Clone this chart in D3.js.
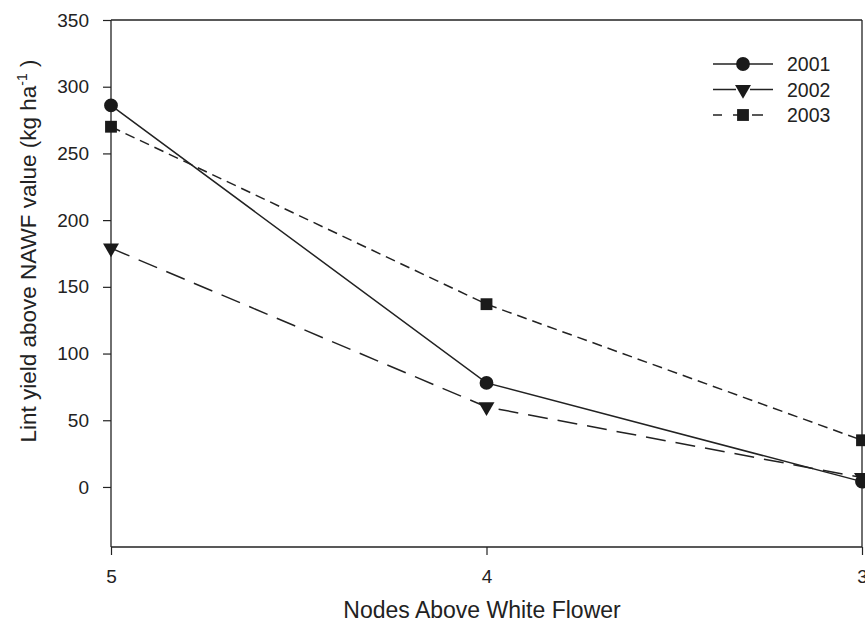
<!DOCTYPE html>
<html>
<head>
<meta charset="utf-8">
<script src="https://cdn.jsdelivr.net/npm/d3@7"></script>
<style>
  body { margin: 0; background: #fff; }
  svg { font-family: 'Liberation Sans', Arial, sans-serif; }
</style>
</head>
<body>
<svg id="chart" width="865" height="632"></svg>
<script>
const nodes = [5, 4, 3]
const xTicks = [5, 4, 3]
const yTicks = [0, 50, 100, 150, 200, 250, 300, 350]
const years = ['2001', '2002', '2003']
const yield2001 = [286, 78, 4]
const yield2002 = [179, 60, 7]
const yield2003 = [270, 137, 35]

const series = [
  { name: years[0], values: yield2001, dash: null, legendDash: null, symbol: d3.symbolCircle, size: 150 },
  { name: years[1], values: yield2002, dash: '20,10', legendDash: '23,14', symbol: d3.symbolTriangle, size: 110, rotate: 180 },
  { name: years[2], values: yield2003, dash: '10,6', legendDash: '9,11,6,13,11,11', symbol: d3.symbolSquare, size: 140 }
]

const svg = d3.select('#chart')
const margin = { top: 20, right: 3, bottom: 85, left: 111 }
const width = 865, height = 632
const innerWidth = width - margin.left - margin.right
const innerHeight = height - margin.top - margin.bottom

const g = svg.append('g')
  .attr('transform', `translate(${margin.left},${margin.top})`)

// scales
const x = d3.scaleLinear().domain([5, 3]).range([0, innerWidth])
const y = d3.scaleLinear().domain([-45, 350]).range([innerHeight, 0])

// axes
const xAxis = g.append('g')
  .attr('transform', `translate(0,${innerHeight})`)
  .call(d3.axisBottom(x).tickValues(xTicks).tickFormat(d3.format('d')).tickSize(8).tickPadding(15))

const yAxis = g.append('g')
  .call(d3.axisLeft(y).tickValues(yTicks).tickSize(8).tickPadding(14))

for (const ax of [xAxis, yAxis]) {
  ax.attr('font-size', 19).attr('font-family', null)
  ax.select('.domain').attr('stroke', '#222').attr('stroke-width', 1.3)
  ax.selectAll('.tick line').attr('stroke', '#222').attr('stroke-width', 1.2)
  ax.selectAll('.tick text').attr('fill', '#222')
}
xAxis.select('.domain').attr('d', `M0,0H${innerWidth}`)
yAxis.select('.domain').attr('d', `M0,${innerHeight}V0`)

// top and right frame
g.append('line')
  .attr('x1', 0).attr('x2', innerWidth).attr('y1', 0).attr('y2', 0)
  .attr('stroke', '#222').attr('stroke-width', 1.3)
g.append('line')
  .attr('x1', innerWidth).attr('x2', innerWidth).attr('y1', 0).attr('y2', innerHeight)
  .attr('stroke', '#222').attr('stroke-width', 1.3)

// axis titles
svg.append('text')
  .attr('x', 482)
  .attr('y', 618)
  .attr('text-anchor', 'middle')
  .attr('font-size', 23)
  .attr('fill', '#222')
  .text('Nodes Above White Flower')

const yTitle = svg.append('text')
  .attr('transform', 'translate(36,251) rotate(-90)')
  .attr('text-anchor', 'middle')
  .attr('font-size', 22.5)
  .attr('fill', '#222')
yTitle.append('tspan').text('Lint yield above NAWF value (kg ha')
yTitle.append('tspan').attr('dy', -9).attr('font-size', 14).text('-1')
yTitle.append('tspan').attr('dy', 9).text(' )')

// lines
const line = d3.line()
  .x((d, i) => x(nodes[i]))
  .y(d => y(d))

series.forEach(s => {
  g.append('path')
    .datum(s.values)
    .attr('fill', 'none')
    .attr('stroke', '#222')
    .attr('stroke-width', 1.5)
    .attr('stroke-dasharray', s.dash)
    .attr('d', line)

  g.selectAll(null)
    .data(s.values)
    .enter()
    .append('path')
    .attr('d', d3.symbol().type(s.symbol).size(s.size))
    .attr('transform', (d, i) => `translate(${x(nodes[i])},${y(d)})${s.rotate ? ` rotate(${s.rotate})` : ''}`)
    .attr('fill', '#1a1a1a')
})

// legend
const legend = svg.append('g').attr('transform', 'translate(713,64)')
series.forEach((s, i) => {
  const row = legend.append('g').attr('transform', `translate(0,${i * 25.5})`)
  row.append('line')
    .attr('x1', 0).attr('x2', 60).attr('y1', 0).attr('y2', 0)
    .attr('stroke', '#222').attr('stroke-width', 1.5)
    .attr('stroke-dasharray', s.legendDash)
  row.append('path')
    .attr('d', d3.symbol().type(s.symbol).size(s.size))
    .attr('transform', `translate(30,0)${s.rotate ? ` rotate(${s.rotate})` : ''}`)
    .attr('fill', '#1a1a1a')
  row.append('text')
    .attr('x', 74).attr('y', 7)
    .attr('font-size', 19.5)
    .attr('fill', '#222')
    .text(s.name)
})
</script>
</body>
</html>
